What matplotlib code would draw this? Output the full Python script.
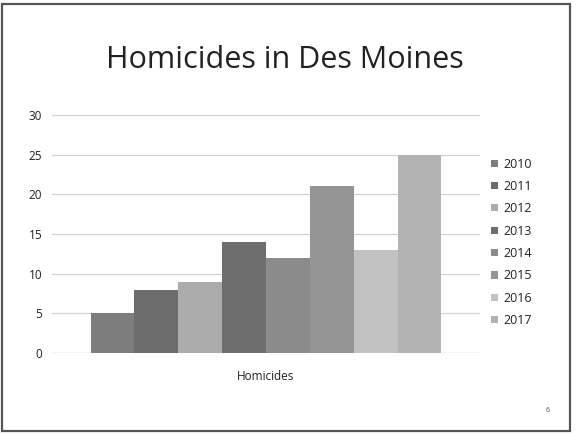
import matplotlib
matplotlib.use("Agg")
import matplotlib.pyplot as plt
from matplotlib.patches import Rectangle

years = ["2010", "2011", "2012", "2013", "2014", "2015", "2016", "2017"]
homicides = [5, 8, 9, 14, 12, 21, 13, 25]
bar_colors = ["#7d7d7d", "#6c6c6c", "#acacac", "#6e6e6e", "#8b8b8b", "#959595", "#c2c2c2", "#b3b3b3"]
category = "Homicides"
yticks = [0, 5, 10, 15, 20, 25, 30]

plt.rcParams['font.family'] = ['Open Sans', 'DejaVu Sans']

W, H = 576, 434
fig = plt.figure(figsize=(W / 100, H / 100), dpi=100)
fig.patch.set_facecolor("white")

# slide frame
fig.patches.append(Rectangle((2 / W, 1 - 431 / H), 568 / W, 427 / H, transform=fig.transFigure,
                             fill=False, edgecolor="#555555", linewidth=1.6))

fig.text(285 / W, 1 - 60 / H, "Homicides in Des Moines", ha="center", va="center",
         fontsize=22, color="#222222")

ax = fig.add_axes([52 / W, 1 - 353 / H, 428 / W, 238 / H])
n = len(years)
group_w = 0.82
bw = group_w / n
for i, (yr, v, c) in enumerate(zip(years, homicides, bar_colors)):
    ax.bar(-group_w / 2 + bw * (i + 0.5), v, width=bw, color=c, label=yr, zorder=2)

ax.set_xlim(-0.5, 0.5)
ax.set_ylim(0, 30)
ax.set_yticks(yticks)
ax.set_xticks([0])
ax.set_xticklabels([category])
ax.tick_params(axis="both", length=0, labelsize=8.5, colors="#222222")
ax.tick_params(axis="y", pad=7)
ax.tick_params(axis="x", pad=12)
ax.grid(axis="y", color="#d2d2d2", linewidth=0.9, zorder=0)
for s in ax.spines.values():
    s.set_visible(False)
ax.axhline(0, color="#cccccc", linewidth=0.9, zorder=1)

leg = ax.legend(loc="center left", bbox_to_anchor=(1.0, 0.465), frameon=False, fontsize=9,
                handlelength=0.5, handleheight=0.5, handletextpad=0.5, labelspacing=0.75)
for t in leg.get_texts():
    t.set_color("#222222")

fig.text(548 / W, 1 - 410 / H, "6", ha="center", va="center", fontsize=5, color="#444444")

fig.savefig("out.png", dpi=100)
